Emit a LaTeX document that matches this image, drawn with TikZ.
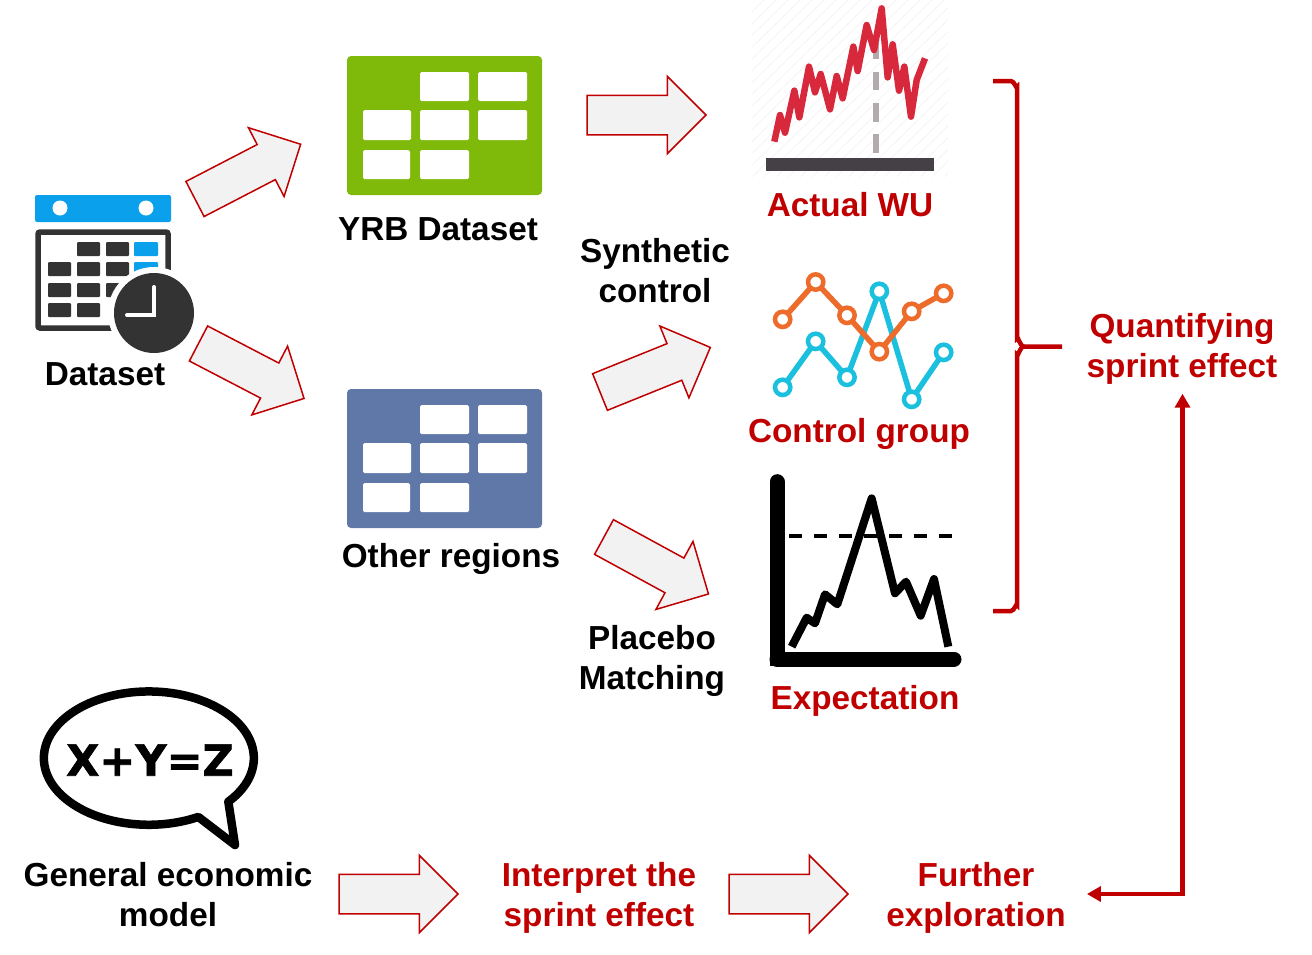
\documentclass[tikz,border=0pt]{standalone}
\usepackage{fontspec}
\setmainfont{Liberation Sans}
\newfontfamily\eqfont[FakeBold=1.5]{DejaVu Sans Bold}
\usetikzlibrary{shapes.arrows, arrows.meta, calc}
\definecolor{sprintred}{RGB}{192,0,0}
\definecolor{arrowgray}{RGB}{242,242,242}
\definecolor{tablegreen}{RGB}{127,186,10}
\definecolor{tableblue}{RGB}{96,120,168}
\definecolor{calblue}{RGB}{10,160,236}
\definecolor{caldark}{RGB}{51,51,51}
\definecolor{wured}{RGB}{215,40,60}
\definecolor{wudash}{RGB}{178,170,174}
\definecolor{wubase}{RGB}{69,64,69}
\definecolor{ctrlorange}{RGB}{238,108,43}
\definecolor{ctrlblue}{RGB}{28,192,223}

\begin{document}
\begin{tikzpicture}[
    x=1pt, y=-1pt,
    blockarrow/.style={single arrow, draw=sprintred, fill=arrowgray, line width=1.5pt, minimum height=119pt, text height=38pt, text depth=0pt, single arrow head extend=19pt, single arrow tip angle=90, inner sep=0pt, outer sep=0pt, anchor=tail},
    blacktext/.style={font=\fontsize{33.3}{40}\selectfont\bfseries, align=center, inner sep=0pt},
    redtext/.style={blacktext, text=sprintred},
    sprintline/.style={sprintred, line width=4.5pt},
    cell/.style={fill=white, rounded corners=1.5pt},
    calcell/.style={fill=caldark, rounded corners=1pt},
    circ/.style={fill=white, line width=4.5pt}
]
    \useasboundingbox (0,0) rectangle (1312,954);

    % Calendar
    \fill[calblue, rounded corners=2pt] (35,195) rectangle (171,222);
    \fill[white] (60,208) circle (7.5);
    \fill[white] (146,208) circle (7.5);
    \draw[caldark, line width=5.5pt, rounded corners=2pt] (38,232) rectangle (168,328);
    \fill[calcell] (77,242) rectangle (100,256);
    \fill[calcell] (106,242) rectangle (129,256);
    \fill[calblue, rounded corners=1pt] (134,242) rectangle (158,256);
    \fill[calcell] (48,262) rectangle (71,276);
    \fill[calcell] (77,262) rectangle (100,276);
    \fill[calcell] (106,262) rectangle (129,276);
    \fill[calblue, rounded corners=1pt] (134,262) rectangle (158,276);
    \fill[calcell] (48,283) rectangle (71,297);
    \fill[calcell] (77,283) rectangle (100,297);
    \fill[calcell] (106,283) rectangle (129,297);
    \fill[calcell] (48,303) rectangle (71,317);
    \fill[calcell] (77,303) rectangle (100,317);
    \fill[white] (154,313) circle (46);
    \fill[caldark] (154,313) circle (40);
    \draw[white, line width=4pt, line cap=round] (154,287) -- (154,315) -- (127,315);

    % Tables
    \fill[tablegreen, rounded corners=4pt] (347,56) rectangle (542,195);
    \fill[cell] (420,72) rectangle (469,101);
    \fill[cell] (478,72) rectangle (527,101);
    \fill[cell] (363,110) rectangle (411,140);
    \fill[cell] (420,110) rectangle (469,140);
    \fill[cell] (478,110) rectangle (527,140);
    \fill[cell] (363,150) rectangle (410,179);
    \fill[cell] (420,150) rectangle (469,179);

    \fill[tableblue, rounded corners=4pt] (347,389) rectangle (542,528);
    \fill[cell] (420,405) rectangle (469,434);
    \fill[cell] (478,405) rectangle (527,434);
    \fill[cell] (363,443) rectangle (411,473);
    \fill[cell] (420,443) rectangle (469,473);
    \fill[cell] (478,443) rectangle (527,473);
    \fill[cell] (363,483) rectangle (410,512);
    \fill[cell] (420,483) rectangle (469,512);

    % Actual WU
    \begin{scope}
        \clip (752,0) rectangle (948,177);
        \foreach \i in {0,12,...,384}
            \draw[black!4, line width=1pt] (752+\i-180,177) -- (752+\i,0);
    \end{scope}
    \begin{scope}[shift={(740,0)}, scale=1/3]
        \fill[wudash] (398,130) rectangle (417,178);
        \fill[wudash] (398,217) rectangle (417,270);
        \fill[wudash] (398,310) rectangle (417,365);
        \fill[wudash] (398,403) rectangle (417,458);
        \fill[wubase] (78,475) rectangle (582,512);
        \draw[wured, line width=6.5pt, line join=round] (103,425) -- (120,345) -- (135,398) -- (163,272) -- (178,352) -- (207,200) -- (225,277) -- (242,222) -- (270,328) -- (290,228) -- (308,295) -- (340,140) -- (353,213) -- (380,75) -- (402,150) -- (425,25) -- (443,232) -- (458,133) -- (477,272) -- (493,200) -- (513,350) -- (530,240) -- (555,175);
    \end{scope}

    % Control group
    \begin{scope}[shift={(750,260)}, scale=1/3]
        \draw[ctrlblue, line width=5.5pt] (98,382) -- (197,244) -- (291,352) -- (388,94) -- (485,418) -- (581,277);
        \draw[ctrlorange, line width=5.5pt] (98,178) -- (197,66) -- (291,166) -- (388,275) -- (485,154) -- (581,100);
        \draw[ctrlblue, circ] (98,382) circle (23);
        \draw[ctrlblue, circ] (197,244) circle (23);
        \draw[ctrlblue, circ] (291,352) circle (23);
        \draw[ctrlblue, circ] (388,94) circle (23);
        \draw[ctrlblue, circ] (485,418) circle (23);
        \draw[ctrlblue, circ] (581,277) circle (23);
        \draw[ctrlorange, circ] (98,178) circle (23);
        \draw[ctrlorange, circ] (197,66) circle (23);
        \draw[ctrlorange, circ] (291,166) circle (23);
        \draw[ctrlorange, circ] (388,275) circle (23);
        \draw[ctrlorange, circ] (485,154) circle (23);
        \draw[ctrlorange, circ] (581,100) circle (23);
    \end{scope}

    % Expectation
    \begin{scope}[shift={(750,465)}, scale=1/3]
        \draw[black, line width=4.5pt, dash pattern=on 12.5pt off 12.5pt] (118,213) -- (605,213);
        \draw[black, line width=8pt, line join=round] (125,545) -- (170,458) -- (195,475) -- (225,388) -- (262,418) -- (365,100) -- (435,385) -- (468,350) -- (512,452) -- (552,342) -- (595,545);
        \draw[black, line width=15pt, line cap=round] (81,50) -- (81,582);
        \draw[black, line width=15pt, line cap=round] (81,582) -- (612,582);
        \fill[black] (59.5,560) rectangle (90,604);
    \end{scope}

    % Speech bubble
    \begin{scope}[shift={(20,675)}, scale=1/3]
        \draw[black, line width=8.5pt, line join=round] (625,380) arc[start angle=40.8, end angle=-298.1, x radius=315, y radius=200] -- (645,510) -- cycle;
    \end{scope}
    \node[font=\eqfont\fontsize{43}{43}\selectfont, inner sep=0pt] (equation) at (150,760) {X+Y=Z};

    % Block arrows
    \node[blockarrow, rotate=27.4] (toyrb) at (195,199) {};
    \node[blockarrow, rotate=-27.5] (toothers) at (198.5,343.5) {};
    \node[blockarrow] (toactual) at (587,115) {};
    \node[blockarrow, rotate=22] (tocontrol) at (600,392) {};
    \node[blockarrow, rotate=-28.6] (toexpect) at (604,537) {};
    \node[blockarrow] (tointerpret) at (339,894) {};
    \node[blockarrow] (tofurther) at (729,894) {};

    % Labels
    \node[blacktext] (dataset) at (105,374) {Dataset};
    \node[blacktext] (yrb) at (438,229) {YRB Dataset};
    \node[blacktext] (others) at (451,558.5) {Other regions};
    \node[blacktext] (synthetic) at (655,271) {Synthetic\\control};
    \node[blacktext] (placebo) at (652,661) {Placebo\\Matching};
    \node[blacktext] (economic) at (168,895) {General economic\\model};
    \node[redtext] (actual) at (850,205) {Actual WU};
    \node[redtext] (control) at (859,434) {Control group};
    \node[redtext] (expect) at (865,701) {Expectation};
    \node[redtext] (quant) at (1182,349) {Quantifying\\sprint effect};
    \node[redtext] (interpret) at (599,898) {Interpret the\\sprint effect};
    \node[redtext] (further) at (976,898) {Further\\exploration};

    % Bracket
    \draw[sprintline] (993,81) -- (1011,81) to[out=0, in=-90] (1017,87) -- (1017,338) to[out=90, in=180] (1024,346.5) -- (1062,346.5);
    \draw[sprintline] (1024,346.5) to[out=180, in=-90] (1017,355) -- (1017,605) to[out=90, in=0] (1011,611) -- (993,611);

    % Feedback arrow
    \draw[sprintline, {Triangle[length=14pt, width=15pt]}-{Triangle[length=14pt, width=15pt]}] ($(further.east)+(21,-4)$) -| ($(quant.south)+(0.5,9)$);
\end{tikzpicture}
\end{document}
